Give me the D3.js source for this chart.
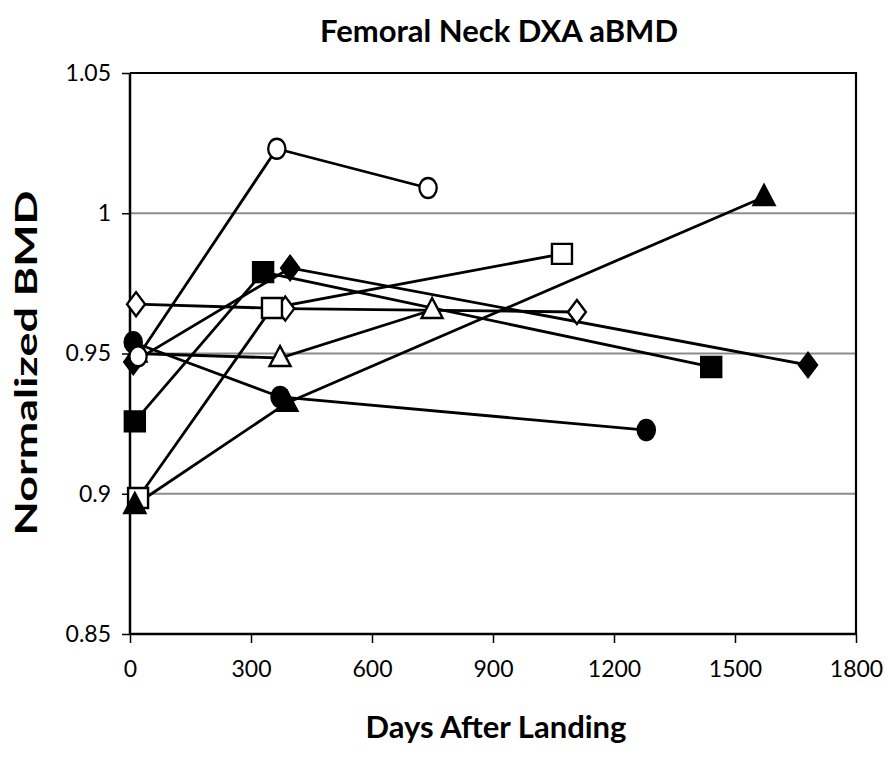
<!DOCTYPE html>
<html>
<head>
<meta charset="utf-8">
<script src="https://cdn.jsdelivr.net/npm/d3@7"></script>
<style>
  body { margin: 0; background: #fff; }
  text { font-family: Lato, "Open Sans", sans-serif; fill: #000; }
</style>
</head>
<body>
<svg id="chart" width="888" height="759"></svg>
<script>
// each subject: three scans, days after landing vs normalized BMD
const circleOpen     = [[20, 0.949], [364, 1.023], [739, 1.009]]
const diamondOpen    = [[15, 0.9676], [385, 0.966], [1108, 0.9648]]
const squareOpen     = [[20, 0.8985], [352, 0.9662], [1071, 0.9855]]
const triangleOpen   = [[15, 0.950], [372, 0.9484], [749, 0.9655]]
const squareFilled   = [[12, 0.9258], [330, 0.979], [1441, 0.9452]]
const diamondFilled  = [[8, 0.947], [397, 0.9805], [1681, 0.9459]]
const circleFilled   = [[8, 0.954], [372, 0.9345], [1280, 0.9227]]
const triangleFilled = [[12, 0.896], [389, 0.9324], [1572, 1.0058]]

const xTicks = [0, 300, 600, 900, 1200, 1500, 1800]
const yTicks = [0.85, 0.9, 0.95, 1, 1.05]
const gridValues = [0.9, 0.95, 1]

const series = [
  { data: diamondOpen, shape: "diamond", filled: false },
  { data: squareOpen, shape: "square", filled: false },
  { data: triangleOpen, shape: "triangle", filled: false },
  { data: circleFilled, shape: "circle", filled: true },
  { data: triangleFilled, shape: "triangle", filled: true },
  { data: squareFilled, shape: "square", filled: true },
  { data: diamondFilled, shape: "diamond", filled: true },
  { data: circleOpen, shape: "circle", filled: false }
]

const svg = d3.select("#chart")
const plotLeft = 130, plotRight = 856, plotTop = 73, plotBottom = 634

const x = d3.scaleLinear().domain([0, 1800]).range([plotLeft, plotRight])
const y = d3.scaleLinear().domain([0.85, 1.05]).range([plotBottom, plotTop])

// gridlines
svg.selectAll(".grid").data(gridValues).enter().append("line")
  .attr("x1", plotLeft).attr("x2", plotRight)
  .attr("y1", d => y(d)).attr("y2", d => y(d))
  .attr("stroke", "#8c8c8c")
  .attr("stroke-width", 2)

// frame top + right
svg.append("path")
  .attr("d", `M${plotLeft},${plotTop}H${plotRight}V${plotBottom}`)
  .attr("fill", "none")
  .attr("stroke", "#000")
  .attr("stroke-width", 2.2)

const xAxis = svg.append("g")
  .attr("transform", `translate(0,${plotBottom})`)
  .call(d3.axisBottom(x).tickValues(xTicks).tickSize(9).tickPadding(18).tickFormat(d3.format("d")))
xAxis.select(".domain").attr("stroke-width", 2.5).attr("d", `M${plotLeft},0H${plotRight}`)
xAxis.selectAll(".tick line").attr("stroke-width", 1.5)
xAxis.selectAll("text").attr("font-size", "23px").attr("font-family", "Lato, sans-serif")

const yAxis = svg.append("g")
  .attr("transform", `translate(${plotLeft},0)`)
  .call(d3.axisLeft(y).tickValues(yTicks).tickSize(8).tickPadding(11).tickFormat(d => d3.format("")(d)))
yAxis.select(".domain").attr("stroke-width", 2.5).attr("d", `M0,${plotTop}V${plotBottom}`)
yAxis.selectAll(".tick line").attr("stroke-width", 1.5)
yAxis.selectAll("text").attr("font-size", "23px").attr("font-family", "Lato, sans-serif")

const line = d3.line().x(d => x(d[0])).y(d => y(d[1]))

function markerPath(shape) {
  if (shape === "square") return "M-10,-10H10V10H-10Z"
  if (shape === "diamond") return "M0,-12L9,0L0,12L-9,0Z"
  if (shape === "triangle") return "M0,-12L10.5,8H-10.5Z"
  return d3.symbol(d3.symbolCircle, 260)()
}

series.forEach(s => {
  svg.append("path")
    .attr("d", line(s.data))
    .attr("fill", "none")
    .attr("stroke", "#000")
    .attr("stroke-width", 2.8)
})

series.forEach(s => {
  svg.selectAll(null).data(s.data).enter().append("path")
    .attr("transform", d => `translate(${x(d[0])},${y(d[1])})` + (s.shape === "circle" ? " scale(0.95,1.1)" : ""))
    .attr("d", markerPath(s.shape))
    .attr("fill", s.filled ? "#000" : "#fff")
    .attr("stroke", "#000")
    .attr("stroke-width", 2.4)
})

svg.append("text")
  .attr("x", 499).attr("y", 42)
  .attr("text-anchor", "middle")
  .attr("font-size", "31px").attr("font-weight", "bold")
  .text("Femoral Neck DXA aBMD")

svg.append("text")
  .attr("x", 496).attr("y", 738)
  .attr("text-anchor", "middle")
  .attr("font-size", "31px").attr("font-weight", "bold")
  .text("Days After Landing")

svg.append("text")
  .attr("transform", "translate(37,363) rotate(-90)")
  .attr("text-anchor", "middle")
  .attr("font-family", "'DejaVu Sans', sans-serif")
  .attr("font-size", "30px").attr("font-weight", "bold")
  .attr("textLength", 345)
  .attr("lengthAdjust", "spacingAndGlyphs")
  .text("Normalized BMD")
</script>
</body>
</html>
